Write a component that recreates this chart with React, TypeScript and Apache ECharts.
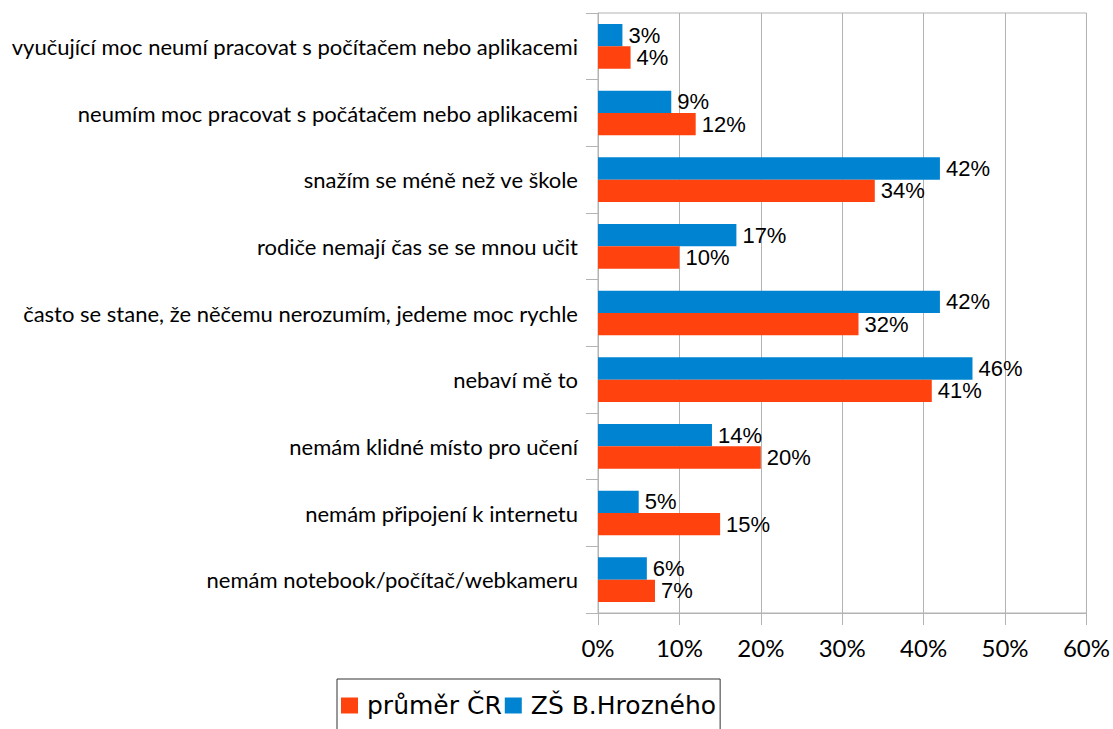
import React, { useEffect, useRef } from "react";
import * as echarts from "echarts";

const categories = [
  "vyučující moc neumí pracovat s počítačem nebo aplikacemi",
  "neumím moc pracovat s počátačem nebo aplikacemi",
  "snažím se méně než ve škole",
  "rodiče nemají čas se se mnou učit",
  "často se stane, že něčemu nerozumím, jedeme moc rychle",
  "nebaví mě to",
  "nemám klidné místo pro učení",
  "nemám připojení k internetu",
  "nemám notebook/počítač/webkameru",
];
const zsValues = [3, 9, 42, 17, 42, 46, 14, 5, 6];
const crValues = [4, 12, 34, 10, 32, 41, 20, 15, 7];
const seriesNames = ["průměr ČR", "ZŠ B.Hrozného"];
const xTicks = { min: 0, max: 60, interval: 10 };

const labelFont = "Lato, 'Noto Sans', sans-serif";
const legendFont = "'DejaVu Sans', Verdana, sans-serif";
const numFont = "'Liberation Sans Narrow', 'Liberation Sans', Arial, sans-serif";

export default function App() {
  const ref = useRef<HTMLDivElement>(null);
  useEffect(() => {
    if (!ref.current) return;
    const chart = echarts.init(ref.current, undefined, { renderer: "svg" });
    const dataLabel = {
      show: true,
      position: "right",
      distance: 6,
      formatter: "{c}%",
      color: "#000",
      fontFamily: numFont,
      fontSize: 22,
      lineHeight: 22,
    };
    chart.setOption({
      animation: false,
      backgroundColor: "#fff",
      grid: {
        left: 598,
        right: 23,
        top: 13,
        bottom: 116,
        show: true,
        borderColor: "#b3b3b3",
        borderWidth: 1,
      },
      legend: {
        data: seriesNames,
        left: 337,
        top: 679,
        orient: "horizontal",
        icon: "rect",
        itemWidth: 17,
        itemHeight: 16,
        itemGap: 3,
        padding: [14, 4, 40, 4],
        borderColor: "#333",
        borderWidth: 1,
        textStyle: {
          fontFamily: legendFont,
          fontSize: 25,
          color: "#000",
          padding: [0, 0, 0, 4],
        },
      },
      xAxis: {
        type: "value",
        min: xTicks.min,
        max: xTicks.max,
        interval: xTicks.interval,
        axisLine: { show: true, lineStyle: { color: "#b3b3b3" } },
        axisTick: { show: true, length: 12, lineStyle: { color: "#b3b3b3" } },
        splitLine: { show: true, lineStyle: { color: "#b3b3b3" } },
        axisLabel: {
          formatter: "{value}%",
          margin: 22,
          color: "#000",
          fontFamily: labelFont,
          fontSize: 24,
        },
      },
      yAxis: {
        type: "category",
        data: categories,
        inverse: true,
        axisLine: { show: true, lineStyle: { color: "#b3b3b3" } },
        axisTick: { show: true, length: 12, lineStyle: { color: "#b3b3b3" } },
        axisLabel: {
          margin: 20,
          color: "#000",
          fontFamily: labelFont,
          fontSize: 22,
        },
      },
      series: [
        {
          name: seriesNames[1],
          type: "bar",
          data: zsValues,
          barGap: "0%",
          barCategoryGap: "33%",
          itemStyle: { color: "#0084d1" },
          label: dataLabel,
        },
        {
          name: seriesNames[0],
          type: "bar",
          data: crValues,
          barGap: "0%",
          barCategoryGap: "33%",
          itemStyle: { color: "#ff420e" },
          label: dataLabel,
        },
      ],
    });
    return () => chart.dispose();
  }, []);
  return (
    <div
      ref={ref}
      style={{ position: "absolute", left: 0, top: 0, width: 1113, height: 729 }}
    />
  );
}
